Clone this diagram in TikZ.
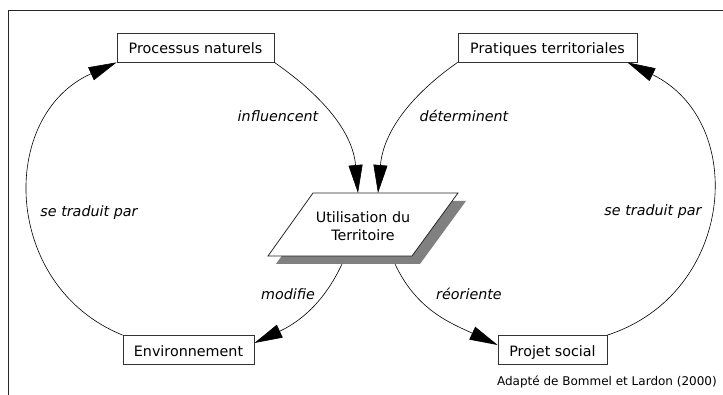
\documentclass[tikz,border=0pt]{standalone}
\usepackage{fontspec}
\setmainfont{DejaVu Sans}
\usetikzlibrary{arrows.meta}
\begin{document}
\begin{tikzpicture}[x=1pt,y=1pt,
  txt/.style={font=\fontsize{14.3}{18}\selectfont},
  box/.style={txt, draw=black!80, line width=0.8pt, fill=white,
    minimum height=29pt, inner sep=0pt, text height=13pt, text depth=0pt},
  flow/.style={draw=black, line width=0.6pt,
    -{Triangle[length=28pt,width=14pt]}},
  lbl/.style={txt, font=\fontsize{14.3}{18}\selectfont\itshape, inner sep=0pt, anchor=base},
  frameline/.style={draw=black!85, line width=0.9pt}]
\useasboundingbox (0,0) rectangle (723,395);

% partial frame
\coordinate (fTR) at (723,385);
\coordinate (fTL) at (8,385);
\coordinate (fBL) at (8,0);
\draw[frameline] (fTR) -- (fTL) -- (fBL);

% boxes
\node[box, minimum width=157pt] (pn)  at (195.5,347.5) {Processus naturels};
\node[box, minimum width=179pt] (pt)  at (547.5,347.5) {Pratiques territoriales};
\node[box, minimum width=131pt] (env) at (188.5,45)    {Environnement};
\node[box, minimum width=109pt] (ps)  at (552.5,45)    {Projet social};

% central parallelogram with its drop shadow
\coordinate (utTL) at (313,202);
\coordinate (utTR) at (458,202);
\coordinate (utBR) at (412,139);
\coordinate (utBL) at (268,139);
\fill[black!50] ([shift={(8,-8)}]utTL) -- ([shift={(8,-8)}]utTR)
  -- ([shift={(8,-8)}]utBR) -- ([shift={(8,-8)}]utBL) -- cycle;
\draw[fill=white, draw=black!85, line width=0.8pt]
  (utTL) -- (utTR) -- (utBR) -- (utBL) -- cycle;
\node[txt, align=center, inner sep=0pt] (ut) at (363,168.5) {Utilisation du\\Territoire};

% attachment points
\coordinate (utIn1)  at (358,202);
\coordinate (utIn2)  at (378,202);
\coordinate (utOut1) at (342,131);
\coordinate (utOut2) at (395,131);
\coordinate (ptEnd)  at ([xshift=-10pt]pt.south east);
\coordinate (envIn)  at ([yshift=7pt]env.east);
\coordinate (psIn)   at ([yshift=5pt]ps.west);

% connectors
\draw[flow] (pn.south east) to[out=-35, in=95] (utIn1);
\draw[flow] (pt.south west) to[out=215, in=85] (utIn2);
\draw[flow] (env.north west) to[out=158, in=204, looseness=1.22] (pn.south west);
\draw[flow] (ps.north east) to[out=18, in=-26, looseness=1.26] (ptEnd);
\draw[flow] (utOut1) to[out=-115, in=25] (envIn);
\draw[flow] (utOut2) to[out=-65, in=155] (psIn);

% connector labels
\node[lbl] (l1) at (278,273) {influencent};
\node[lbl] (l2) at (464,273) {déterminent};
\node[lbl] (l3) at (89,178)  {se traduit par};
\node[lbl] (l4) at (653,179) {se traduit par};
\node[lbl] (l5) at (288,95)  {modifie};
\node[lbl] (l6) at (469,95)  {réoriente};

% source
\node[font=\fontsize{12}{14}\selectfont, anchor=base east, inner sep=0pt] (src) at (717,9) {Adapté de Bommel et Lardon (2000)};
\end{tikzpicture}
\end{document}
